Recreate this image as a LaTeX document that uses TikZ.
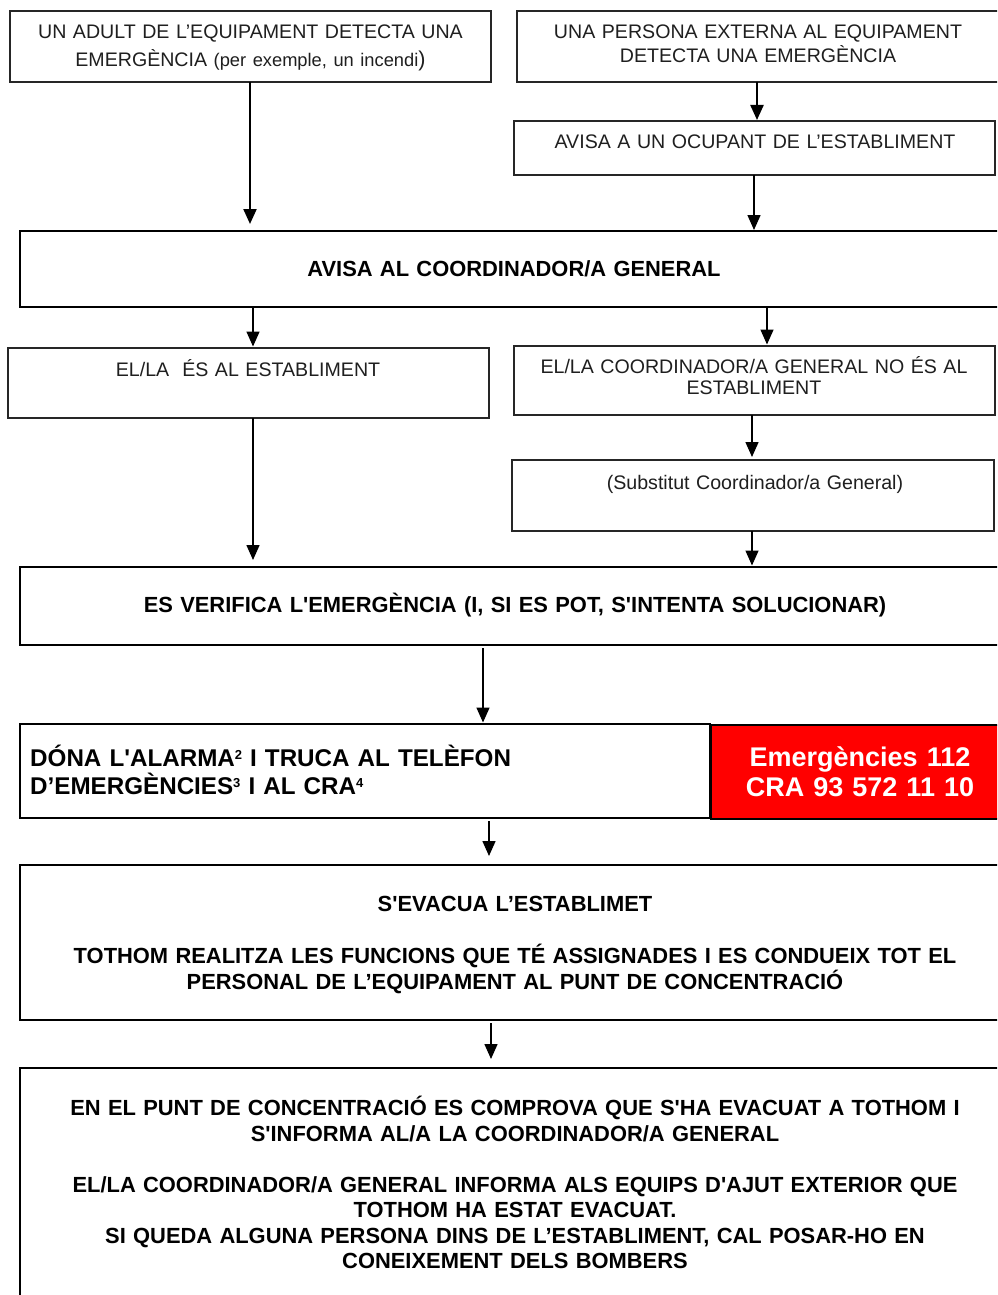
\documentclass[tikz,border=0pt]{standalone}
\usepackage{fontspec}
\setmainfont{Liberation Sans}[Ligatures=TeXOff]
\usetikzlibrary{arrows.meta,calc}
\newcommand\mkbox[6]{\node[#6, minimum width=#4pt-#2pt, minimum height=#5pt-#3pt] (#1) at (#2,#3) {};}
\tikzset{
  lbox/.style={draw=black!85, line width=1.4pt, inner sep=0pt, outer sep=0pt, anchor=north west},
  bbox/.style={draw=black, line width=2.6pt, inner sep=0pt, outer sep=0pt, anchor=north west},
  ltext/.style={font=\fontsize{19.6}{27}\selectfont, text=black!88, align=center, anchor=base, inner sep=0pt, text width=470pt},
  btext/.style={font=\fontsize{21.9}{26}\selectfont\bfseries, align=center, anchor=base, inner sep=0pt, text width=960pt},
  arr/.style={line width=1.5pt, draw=black, -{Triangle[length=15pt,width=13pt]}},
  tarr/.style={line width=2.2pt, draw=black, -{Triangle[length=15pt,width=13pt]}},
}
\begin{document}
\begin{tikzpicture}[x=1pt,y=-1pt]
\useasboundingbox (0,0) rectangle (997,1295);
\clip (0,0) rectangle (997,1295);
\fill[white] (0,0) rectangle (997,1295);
% boxes
\mkbox{b1}{10}{11}{491}{82}{lbox}
\mkbox{b2}{517}{11}{1010}{82}{lbox}
\mkbox{b3}{514}{121}{995}{175}{lbox}
\mkbox{b4}{20}{231}{1010}{307}{bbox}
\mkbox{b5}{8}{348}{489}{418}{lbox}
\mkbox{b6}{514}{346}{995}{415}{lbox}
\mkbox{b7}{512}{460}{994}{531}{lbox}
\mkbox{b8}{20}{567}{1010}{645}{bbox}
\node[fill=red, draw=black, line width=2pt, inner sep=0pt, anchor=north west, minimum width=300pt, minimum height=94pt] (b9r) at (710,724) {};
\mkbox{b9}{20}{724}{710}{818}{bbox}
\mkbox{b10}{20}{865}{1010}{1020}{bbox}
\mkbox{b11}{20}{1068}{1010}{1310}{bbox}
% texts
\node[ltext] (t1) at (250.5,39) {UN ADULT DE L’EQUIPAMENT DETECTA UNA\\[1pt]EMERGÈNCIA {\fontsize{18.3}{20}\selectfont(per exemple, un incendi}{\fontsize{21.5}{20}\selectfont)}};
\node[ltext, font=\fontsize{19.6}{24}\selectfont] (t2) at (758,39) {UNA PERSONA EXTERNA AL EQUIPAMENT\\DETECTA UNA EMERGÈNCIA};
\node[ltext] (t3) at (755,149) {AVISA A UN OCUPANT DE L’ESTABLIMENT};
\node[btext] (t4) at (514,276) {AVISA AL COORDINADOR/A GENERAL};
\node[ltext] (t5) at (248,376) {EL/LA\ \ ÉS AL ESTABLIMENT};
\node[ltext, font=\fontsize{19.6}{21.5}\selectfont] (t6) at (754,373) {EL/LA COORDINADOR/A GENERAL NO ÉS AL\\ESTABLIMENT};
\node[ltext] (t7) at (755,489) {(Substitut Coordinador/a General)};
\node[btext] (t8) at (515,612) {ES VERIFICA L'EMERGÈNCIA (I, SI ES POT, S'INTENTA SOLUCIONAR)};
\node[btext, font=\fontsize{24.2}{28}\selectfont\bfseries, align=left, text width=600pt, anchor=base west] (t9) at (30,766.5) {DÓNA L'ALARMA{\fontsize{13}{13}\selectfont\raisebox{7pt}{2}} I TRUCA AL TELÈFON\\D’EMERGÈNCIES{\fontsize{13}{13}\selectfont\raisebox{7pt}{3}} I AL CRA{\fontsize{13}{13}\selectfont\raisebox{7pt}{4}}};
\node[btext, font=\fontsize{27}{30}\selectfont\bfseries, text=white, text width=280pt] (t9r) at (860,766) {Emergències 112\\CRA 93 572 11 10};
\node[btext] (t10a) at (515,911) {S'EVACUA L’ESTABLIMET};
\node[btext] (t10b) at (515,963) {TOTHOM REALITZA LES FUNCIONS QUE TÉ ASSIGNADES I ES CONDUEIX TOT EL\\PERSONAL DE L’EQUIPAMENT AL PUNT DE CONCENTRACIÓ};
\node[btext] (t11a) at (515,1115) {EN EL PUNT DE CONCENTRACIÓ ES COMPROVA QUE S'HA EVACUAT A TOTHOM I\\S'INFORMA AL/A LA COORDINADOR/A GENERAL};
\node[btext, font=\fontsize{21.9}{25.5}\selectfont\bfseries] (t11b) at (515,1192) {EL/LA COORDINADOR/A GENERAL INFORMA ALS EQUIPS D'AJUT EXTERIOR QUE\\TOTHOM HA ESTAT EVACUAT.\\SI QUEDA ALGUNA PERSONA DINS DE L’ESTABLIMENT, CAL POSAR-HO EN\\CONEIXEMENT DELS BOMBERS};
% arrows
\draw[tarr] (250,0 |- b1.south) -- ([yshift=7pt]250,0 |- b4.north);
\draw[tarr] (757,0 |- b2.south) -- ([yshift=1pt]757,0 |- b3.north);
\draw[arr] (754,0 |- b3.south) -- ([yshift=1pt]754,0 |- b4.north);
\draw[arr] (253,0 |- b4.south) -- ([yshift=1.5pt]253,0 |- b5.north);
\draw[arr] (767,0 |- b4.south) -- ([yshift=1.5pt]767,0 |- b6.north);
\draw[arr] (752,0 |- b6.south) -- ([yshift=3pt]752,0 |- b7.north);
\draw[arr] (253,0 |- b5.south) -- ([yshift=7pt]253,0 |- b8.north);
\draw[arr] (752,0 |- b7.south) -- ([yshift=1.5pt]752,0 |- b8.north);
\draw[arr] ([yshift=-3pt]483,0 |- b8.south) -- ([yshift=1.5pt]483,0 |- b9.north);
\draw[arr] ([yshift=-3pt]489,0 |- b9.south) -- ([yshift=9pt]489,0 |- b10.north);
\draw[arr] ([yshift=-3pt]491,0 |- b10.south) -- ([yshift=9pt]491,0 |- b11.north);
\end{tikzpicture}
\end{document}
